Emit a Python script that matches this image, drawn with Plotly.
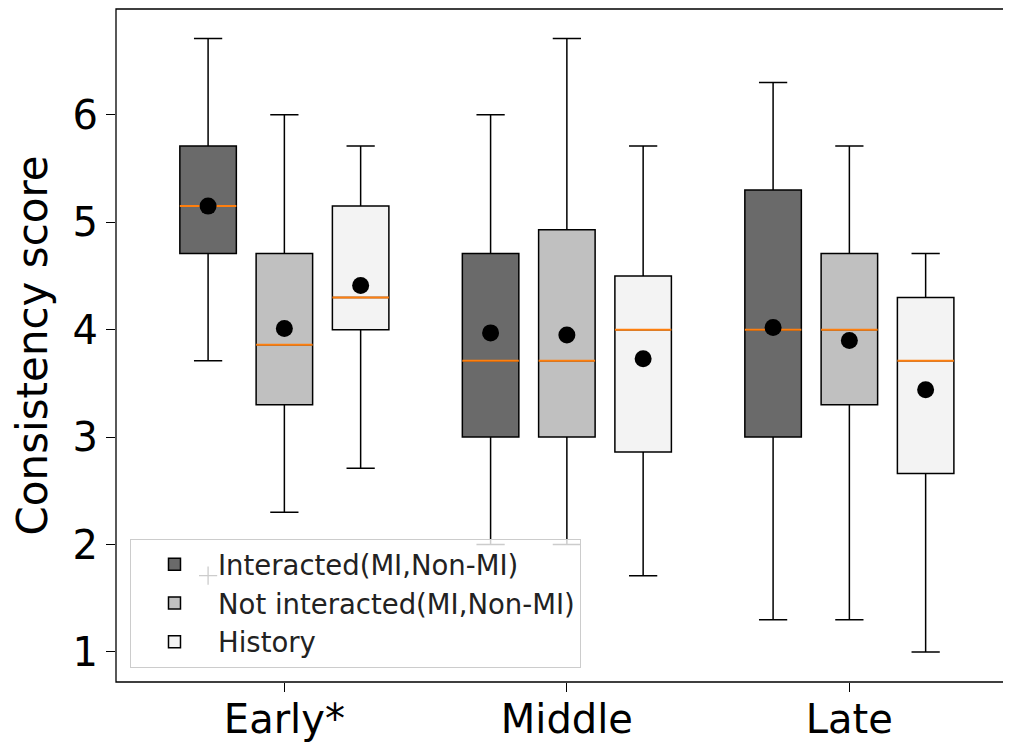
import plotly.graph_objects as go

# ---- data ----
phases = ["Early*", "Middle", "Late"]
phase_pos = [1, 2, 3]
series_names = ["Interacted(MI,Non-MI)", "Not interacted(MI,Non-MI)", "History"]
series_offsets = [-0.27, 0.0, 0.27]
series_colors = ["#6a6a6a", "#c0c0c0", "#f3f3f3"]

# stats per series: [Early, Middle, Late]
lower = [[3.71, 2.00, 1.30], [2.30, 2.00, 1.30], [2.71, 1.71, 1.00]]
q1 = [[4.71, 3.00, 3.00], [3.30, 3.00, 3.30], [4.00, 2.86, 2.66]]
median = [[5.15, 3.71, 4.00], [3.86, 3.71, 4.00], [4.30, 4.00, 3.71]]
q3 = [[5.71, 4.71, 5.30], [4.71, 4.93, 4.71], [5.15, 4.50, 4.30]]
upper = [[6.71, 6.00, 6.30], [6.00, 6.71, 5.71], [5.71, 5.71, 4.71]]
mean = [[5.15, 3.97, 4.02], [4.01, 3.95, 3.90], [4.41, 3.73, 3.44]]

# outliers: (series index, phase index, value)
outliers = [(0, 0, 1.71)]

box_width = 0.2
y_ticks = [1, 2, 3, 4, 5, 6]

fig = go.Figure()

for s in range(3):
    xs = [p + series_offsets[s] for p in phase_pos]
    fig.add_trace(go.Box(
        x=xs, q1=q1[s], median=median[s], q3=q3[s],
        lowerfence=lower[s], upperfence=upper[s],
        width=box_width, whiskerwidth=0.5,
        fillcolor=series_colors[s],
        line=dict(color="black", width=1.5),
        name=series_names[s], boxpoints=False, showlegend=True,
    ))

# medians (orange) and means (black dots)
for s in range(3):
    mx, my = [], []
    for i, p in enumerate(phase_pos):
        c = p + series_offsets[s]
        mx += [c - box_width / 2, c + box_width / 2, None]
        my += [median[s][i], median[s][i], None]
    fig.add_trace(go.Scatter(x=mx, y=my, mode="lines",
                             line=dict(color="#ff7f0e", width=2),
                             showlegend=False, hoverinfo="skip"))
    fig.add_trace(go.Scatter(
        x=[p + series_offsets[s] for p in phase_pos], y=mean[s],
        mode="markers", marker=dict(color="black", size=17),
        showlegend=False))

# outliers
fig.add_trace(go.Scatter(
    x=[phase_pos[i] + series_offsets[s] for s, i, v in outliers],
    y=[v for s, i, v in outliers],
    mode="markers",
    marker=dict(symbol="cross-thin", size=13, line=dict(color="black", width=1.3)),
    showlegend=False))

axis_common = dict(showline=False, mirror=False,
                   ticks="outside", ticklen=9, tickwidth=1.3, tickcolor="black",
                   showgrid=False, zeroline=False, automargin=False,
                   tickfont=dict(family="DejaVu Sans", size=40, color="black"))

# page body adds an 8px offset; size the figure to land the plot area where the reference has it
fig.update_layout(
    width=1003, height=734,
    margin=dict(l=108, r=4, t=1, b=60),
    paper_bgcolor="white", plot_bgcolor="white",
    boxmode="overlay",
    xaxis=dict(range=[0.404, 3.558], tickvals=phase_pos, ticktext=phases,
               ticklabelstandoff=-7, **axis_common),
    yaxis=dict(range=[0.72, 6.985], tickvals=y_ticks, **axis_common),
    legend=dict(x=0.0157, y=0.021, xanchor="left", yanchor="bottom",
                bgcolor="rgba(255,255,255,0.8)", bordercolor="#cccccc", borderwidth=1,
                font=dict(family="DejaVu Sans", size=27.5, color="#222222"),
                itemwidth=77, tracegroupgap=0),
    shapes=[dict(type="rect", xref="paper", yref="paper", x0=0, x1=1, y0=0, y1=1,
                 line=dict(color="black", width=1.3), layer="above")],
    annotations=[dict(text="Consistency score", xref="paper", yref="paper",
                      x=(32 - 116) / 891, y=0.5, xanchor="center", yanchor="middle",
                      textangle=-90, showarrow=False,
                      font=dict(family="DejaVu Sans", size=42, color="black"))],
)

fig.write_html("out.html")
